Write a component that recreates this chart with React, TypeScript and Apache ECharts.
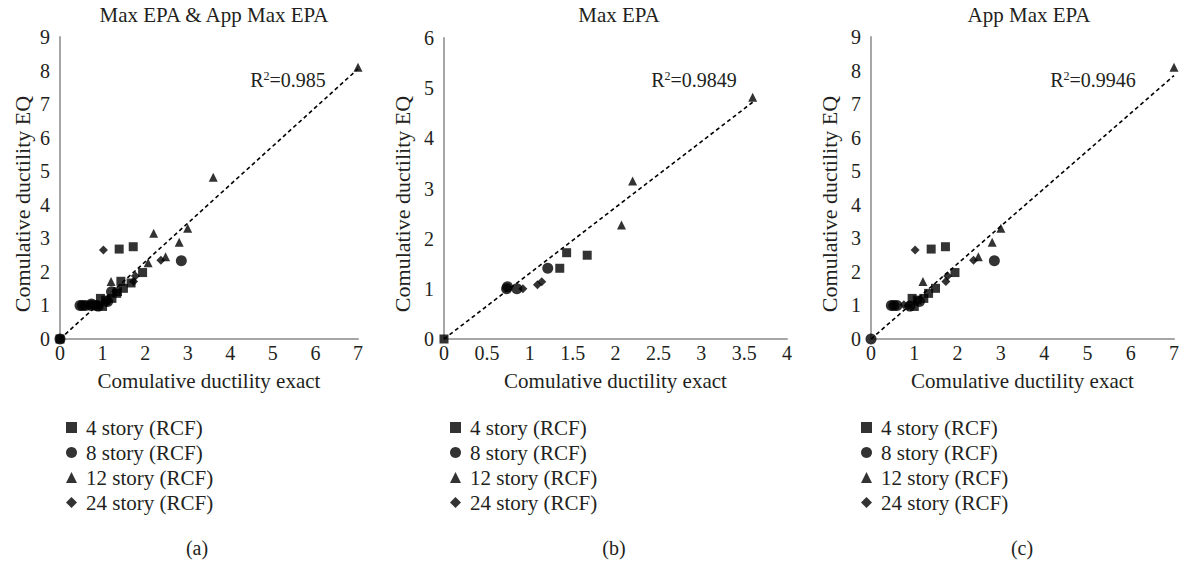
import React, { useEffect, useRef } from "react";
import * as echarts from "echarts";

const seriesNames = ["4 story (RCF)", "8 story (RCF)", "12 story (RCF)", "24 story (RCF)"];
const seriesSymbols = ["rect", "circle", "triangle", "diamond"];
const symbolSizes = [9, 11, 9, 9];

// (b) Max EPA
const maxEpa4 = [[0, 0], [1.35, 1.41], [1.43, 1.72], [1.67, 1.67]];
const maxEpa8 = [[0.73, 1.0], [0.74, 1.04], [0.85, 1.0], [1.21, 1.41]];
const maxEpa12 = [[2.07, 2.27], [2.2, 3.15], [3.6, 4.82]];
const maxEpa24 = [[0.92, 1.0], [1.09, 1.08], [1.14, 1.14]];

// (c) App Max EPA
const appEpa4 = [[0.95, 1.21], [1.0, 0.97], [1.07, 1.16], [1.22, 1.21], [1.33, 1.36], [1.49, 1.51], [1.94, 1.98], [1.39, 2.68], [1.72, 2.75]];
const appEpa8 = [[0, 0], [0.47, 1.0], [0.53, 1.0], [0.6, 1.0], [0.9, 0.98], [1.12, 1.12], [2.85, 2.33]];
const appEpa12 = [[1.2, 1.71], [2.48, 2.45], [2.8, 2.88], [3.0, 3.3], [7.0, 8.1]];
const appEpa24 = [[0.76, 1.02], [0.85, 0.98], [1.02, 2.65], [1.73, 1.71], [1.77, 1.88], [2.37, 2.35]];

// trend lines
const trendAll = [[0, 0], [7, 8.05]];
const trendMax = [[0, 0], [3.6, 4.72]];
const trendApp = [[0, 0], [7, 7.85]];

const panelTitles = ["Max EPA & App Max EPA", "Max EPA", "App Max EPA"];
const r2Labels = ["0.985", "0.9849", "0.9946"];
const subLabels = ["(a)", "(b)", "(c)"];
const xMax = [7, 4, 7];
const xInterval = [1, 0.5, 1];
const yMax = [9, 6, 9];
const xName = "Comulative ductility exact";
const yName = "Comulative ductility EQ";

const FONT = "'Liberation Serif', 'DejaVu Serif', serif";
const INK = "#231f20";

export default function App() {
  const ref = useRef<HTMLDivElement>(null);
  useEffect(() => {
    document.body.style.margin = "0";
    const chart = echarts.init(ref.current!, null, { renderer: "svg" });

    const panelData = [
      [maxEpa4.concat(appEpa4), maxEpa8.concat(appEpa8), maxEpa12.concat(appEpa12), maxEpa24.concat(appEpa24)],
      [maxEpa4, maxEpa8, maxEpa12, maxEpa24],
      [appEpa4, appEpa8, appEpa12, appEpa24],
    ];
    const trends = [trendAll, trendMax, trendApp];

    const grids = [
      { left: 60, top: 37, width: 298, height: 302 },
      { left: 444, top: 38, width: 343, height: 301 },
      { left: 871, top: 37, width: 306, height: 302 },
    ];
    const yNameX = [22, 402, 829];
    const legendLeft = [61, 445, 856];
    const r2X = [288, 694, 1093];

    const series: any[] = [];
    panelData.forEach((sets, p) => {
      sets.forEach((d, k) => {
        series.push({
          type: "scatter",
          name: seriesNames[k],
          xAxisIndex: p,
          yAxisIndex: p,
          data: d,
          symbol: seriesSymbols[k],
          symbolSize: symbolSizes[k],
          itemStyle: { color: "#000" },
          z: 3,
        });
      });
      series.push({
        type: "line",
        name: "trend" + p,
        xAxisIndex: p,
        yAxisIndex: p,
        data: trends[p],
        symbol: "none",
        lineStyle: { color: "#000", type: [4, 3], width: 1.6 },
        z: 2,
      });
    });

    const graphics: any[] = [];
    for (let p = 0; p < 3; p++) {
      graphics.push({
        type: "text",
        x: yNameX[p],
        y: 204,
        rotation: Math.PI / 2,
        style: { text: yName, fontFamily: FONT, fontSize: 22, fill: INK, align: "center", verticalAlign: "middle" },
      });
      graphics.push({
        type: "text",
        x: r2X[p],
        y: 80,
        style: {
          text: "{a|R}{s|2}{a|=" + r2Labels[p] + "}",
          align: "center",
          verticalAlign: "middle",
          rich: {
            a: { fontFamily: FONT, fontSize: 20, fill: INK, color: INK },
            s: { fontFamily: FONT, fontSize: 12, fill: INK, color: INK, verticalAlign: "top", padding: [0, 0, 8, 0] },
          },
        },
      });
      graphics.push({
        type: "text",
        x: [197, 614, 1022][p],
        y: 548,
        style: { text: subLabels[p], fontFamily: FONT, fontSize: 20, fill: INK, align: "center", verticalAlign: "middle" },
      });
    }

    chart.setOption({
      animation: false,
      textStyle: { fontFamily: FONT },
      title: panelTitles.map((t, p) => ({
        text: t,
        left: [209, 614, 1024][p],
        top: -1,
        textAlign: "center",
        textStyle: { fontFamily: FONT, fontSize: 21, fontWeight: "normal", color: INK },
      })),
      grid: grids,
      xAxis: grids.map((g, p) => ({
        type: "value",
        gridIndex: p,
        min: 0,
        max: xMax[p],
        interval: xInterval[p],
        name: xName,
        nameLocation: "middle",
        nameGap: 31,
        nameTextStyle: { fontFamily: FONT, fontSize: 21, color: INK },
        axisLine: { show: true, lineStyle: { color: "#a6a6a6", width: 2 } },
        axisTick: { show: false },
        splitLine: { show: false },
        axisLabel: { fontFamily: FONT, fontSize: 20, color: INK, margin: 4 },
      })),
      yAxis: grids.map((g, p) => ({
        type: "value",
        gridIndex: p,
        min: 0,
        max: yMax[p],
        interval: 1,
        axisLine: { show: true, lineStyle: { color: "#a6a6a6", width: 2 } },
        axisTick: { show: false },
        splitLine: { show: false },
        axisLabel: { fontFamily: FONT, fontSize: 20, color: INK, margin: 10 },
      })),
      legend: legendLeft.map((l) => ({
        orient: "vertical",
        left: l,
        top: 412,
        itemWidth: 11,
        itemHeight: 11,
        itemGap: 4,
        selectedMode: false,
        textStyle: { fontFamily: FONT, fontSize: 21, color: INK, padding: [0, 0, 0, 4] },
        data: seriesNames.map((n, k) => ({ name: n, icon: seriesSymbols[k], itemStyle: { color: "#000" } })),
      })),
      graphic: graphics,
      series,
    });
    return () => chart.dispose();
  }, []);
  return <div ref={ref} style={{ width: 1182, height: 563 }} />;
}
